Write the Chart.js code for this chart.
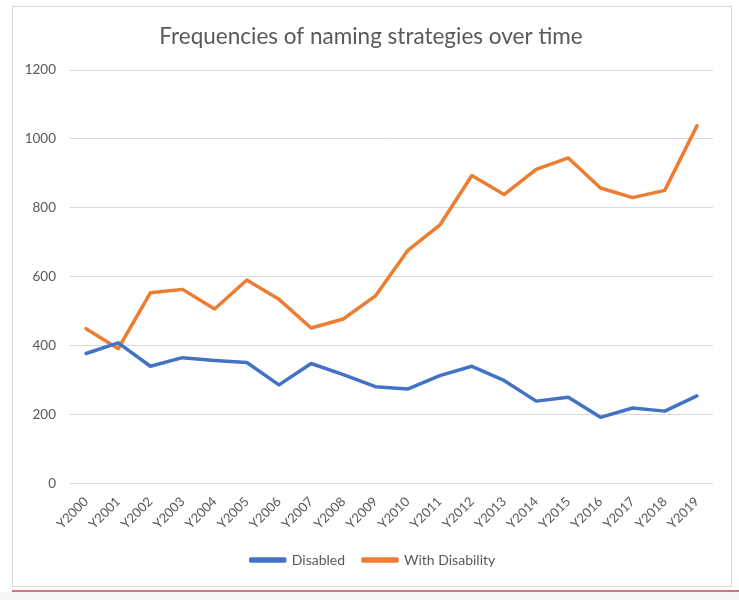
<!DOCTYPE html>
<html>
<head>
<meta charset="utf-8">
<script src="https://cdn.jsdelivr.net/npm/chart.js@4"></script>
<style>
    body { margin: 0; background: #fff; width: 739px; height: 600px; position: relative; overflow: hidden; }
    #frame { position: absolute; left: 12px; top: 6px; width: 718px; height: 579px; border: 1px solid #d9d9d9; background: #fff; }
    #redline { position: absolute; left: 12px; top: 590px; width: 727px; height: 2px; background: #d4737e; }
    #below { position: absolute; left: 0; top: 592px; width: 739px; height: 8px; background: #f6f6f6; }
</style>
</head>
<body>
<div id="frame"><canvas id="chartCanvas"></canvas></div>
<div id="redline"></div>
<div id="below"></div>
<script>
let years = ["Y2000", "Y2001", "Y2002", "Y2003", "Y2004", "Y2005", "Y2006", "Y2007", "Y2008", "Y2009",
    "Y2010", "Y2011", "Y2012", "Y2013", "Y2014", "Y2015", "Y2016", "Y2017", "Y2018", "Y2019"];
let disabled = [378, 409, 341, 366, 358, 352, 287, 349, 317, 282,
    275, 314, 341, 300, 240, 251, 193, 220, 211, 255];
let withDisability = [450, 392, 554, 564, 507, 591, 535, 452, 478, 545,
    676, 750, 894, 839, 912, 945, 858, 830, 851, 1038];
let yTicks = [0, 200, 400, 600, 800, 1000, 1200];

document.addEventListener("DOMContentLoaded", function() {
    let font = "Lato, 'Open Sans', sans-serif";

    // legend and title sit centred on the frame, not on the padded box
    let shiftBoxes = {
        id: 'shiftBoxes',
        afterLayout: function(chart) {
            chart.legend.left += 10;
            chart.legend.right += 10;
            if (chart.titleBlock) {
                chart.titleBlock.left += 8;
                chart.titleBlock.right += 8;
            }
        }
    };

    let context = document.querySelector("#chartCanvas").getContext("2d");
    new Chart(context, {
        type: 'line',
        data: {
            labels: years,
            datasets: [{
                label: 'Disabled',
                data: disabled,
                borderColor: '#4472c4',
                backgroundColor: '#4472c4',
                borderWidth: 3.5,
                pointRadius: 0,
                borderCapStyle: 'round',
                borderJoinStyle: 'round'
            }, {
                label: 'With Disability',
                data: withDisability,
                borderColor: '#ed7d31',
                backgroundColor: '#ed7d31',
                borderWidth: 3.5,
                pointRadius: 0,
                borderCapStyle: 'round',
                borderJoinStyle: 'round'
            }]
        },
        plugins: [shiftBoxes],
        options: {
            responsive: true,
            maintainAspectRatio: false,
            animation: false,
            layout: { padding: { left: 0, right: 18, top: 10, bottom: 9 } },
            plugins: {
                title: {
                    display: true,
                    text: 'Frequencies of naming strategies over time',
                    color: '#595959',
                    font: { family: font, size: 22.5, weight: 'normal' },
                    padding: { top: 6, bottom: 20 }
                },
                legend: {
                    position: 'bottom',
                    labels: {
                        color: '#595959',
                        font: { family: font, size: 14 },
                        boxWidth: 34,
                        boxHeight: 2,
                        padding: 18
                    }
                },
                tooltip: { enabled: false }
            },
            scales: {
                x: {
                    offset: true,
                    grid: { display: false },
                    border: { display: false },
                    afterFit: function(scale) { scale.height = scale.height + 1; },
                    ticks: {
                        color: '#595959',
                        font: { family: font, size: 13 },
                        minRotation: 45,
                        maxRotation: 45,
                        autoSkip: false,
                        padding: 2
                    }
                },
                y: {
                    min: 0,
                    max: 1200,
                    afterBuildTicks: function(scale) {
                        scale.ticks = yTicks.map(function(v) { return { value: v }; });
                    },
                    afterFit: function(scale) { scale.width = 57; },
                    grid: { color: '#d9d9d9', drawTicks: false },
                    border: { display: false },
                    ticks: {
                        color: '#595959',
                        font: { family: font, size: 13.5 },
                        padding: 14,
                        callback: function(value) { return String(value); }
                    }
                }
            }
        }
    });
});
</script>
</body>
</html>
